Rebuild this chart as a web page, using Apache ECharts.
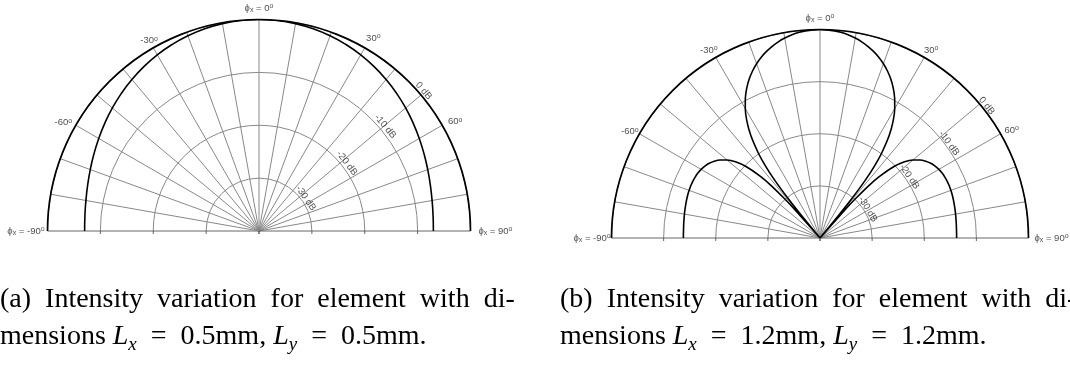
<!DOCTYPE html>
<html>
<head>
<meta charset="utf-8">
<title>Intensity variation</title>
<script src="https://cdn.jsdelivr.net/npm/echarts@6.0.0/dist/echarts.min.js"></script>
<style>
html, body { margin: 0; padding: 0; background: #fff; }
#main { width: 1070px; height: 368px; }
</style>
</head>
<body>
<div id="main"></div>
<script>
// (a) Lx = Ly = 0.5mm : angle (deg) / intensity (dB)
var angleA = [-90,-85,-80,-75,-70,-65,-60,-55,-50,-45,-40,-35,-30,-25,-20,-15,-10,-5,0,
              5,10,15,20,25,30,35,40,45,50,55,60,65,70,75,80,85,90];
var dbA = [-7.02,-6.95,-6.76,-6.45,-6.04,-5.55,-5.00,-4.41,-3.80,-3.19,-2.60,-2.04,-1.53,-1.08,-0.70,-0.40,-0.18,-0.04,0,
           -0.04,-0.18,-0.40,-0.70,-1.08,-1.53,-2.04,-2.60,-3.19,-3.80,-4.41,-5.00,-5.55,-6.04,-6.45,-6.76,-6.95,-7.02];

// (b) Lx = Ly = 1.2mm
var angleB = [-90,-88,-86,-84,-82,-80,-78,-76,-74,-72,-70,-68,-66,-64,-62,-60,-58,-56,-54,-52,-50,-48,-46,-44,-43,-42,-41.5,-41,-40.4,-40,
              -39.5,-39,-38,-37,-36,-34,-32,-30,-28,-26,-24,-22,-20,-18,-16,-14,-12,-10,-8,-6,-4,-2,0,
              2,4,6,8,10,12,14,16,18,20,22,24,26,28,30,32,34,36,37,38,39,39.5,
              40,40.4,41,41.5,42,43,44,46,48,50,52,54,56,58,60,62,64,66,68,70,72,74,76,78,80,82,84,86,88,90];
var dbB = [-13.79,-13.78,-13.76,-13.71,-13.66,-13.59,-13.52,-13.45,-13.38,-13.32,-13.28,-13.26,-13.28,-13.35,-13.47,-13.67,-13.96,-14.37,-14.93,-15.69,-16.73,-18.17,-20.26,-23.55,-26.11,-30.07,-33.19,-38.32,-40,-40,
           -34.48,-30.52,-25.60,-22.36,-19.90,-16.24,-13.51,-11.33,-9.51,-7.96,-6.61,-5.45,-4.42,-3.53,-2.76,-2.09,-1.52,-1.05,-0.67,-0.37,-0.17,-0.04,0,
           -0.04,-0.17,-0.37,-0.67,-1.05,-1.52,-2.09,-2.76,-3.53,-4.42,-5.45,-6.61,-7.96,-9.51,-11.33,-13.51,-16.24,-19.90,-22.36,-25.60,-30.52,-34.48,
           -40,-40,-38.32,-33.19,-30.07,-26.11,-23.55,-20.26,-18.17,-16.73,-15.69,-14.93,-14.37,-13.96,-13.67,-13.47,-13.35,-13.28,-13.26,-13.28,-13.32,-13.38,-13.45,-13.52,-13.59,-13.66,-13.71,-13.76,-13.78,-13.79];

// tick labels
var ringLabels = ['0 dB', '-10 dB', '-20 dB', '-30 dB'];
var ringValues = [-40, -30, -20, -10];   // little ticks under the baseline
var angleTicks = [-90, -60, -30, 0, 30, 60, 90];

// where the labels sit, per plot (radius in dB, angle in deg)
var plots = [
  { center: [259, 231], radius: 211.5,
    ringAt: [[0.9, 49.6], [-9.0, 50.4], [-19.0, 52.4], [-29.2, 55]],
    tickR: [0.45, 2.3, 1.55, 2.1, 2.35, 2.45, 1.4],
    tickA: [-90, -61, -30, 0, 30.7, 60.9, 90] },
  { center: [820, 238], radius: 208.5,
    ringAt: [[0.8, 51.6], [-9.3, 53.7], [-19.2, 55.6], [-29.3, 59]],
    tickR: [0.05, 1.8, 1.9, 2.15, 1.9, 2.2, 1.05],
    tickA: [-90, -60.8, -30.6, 0, 30.6, 60.6, 90] }
];

var gridGrey = '#888';
var splitColors = ['#666'];
for (var k = 0; k < 17; k++) splitColors.push(gridGrey);
splitColors.push('#666');

var labelRich = {
  sub: { fontFamily: 'Liberation Sans', fontSize: 7, lineHeight: 6, verticalAlign: 'bottom', color: '#1a1a1a' },
  sup: { fontFamily: 'Liberation Sans', fontSize: 7, lineHeight: 6, verticalAlign: 'top', color: '#1a1a1a' }
};

function tickText(v) {
  if (v === 0 || Math.abs(v) === 90) return 'ϕ{sub|x} = ' + v + '{sup|o}';
  return v + '{sup|o}';
}

var polar = [], angleAxis = [], radiusAxis = [], series = [];

plots.forEach(function (p, i) {
  polar.push({ center: p.center, radius: p.radius });
  angleAxis.push({
    polarIndex: i, type: 'value', min: -90, max: 90, interval: 10,
    startAngle: 180, endAngle: 0, clockwise: true,
    axisLine: { lineStyle: { color: '#000', width: 1.7 } },
    axisTick: { show: false },
    axisLabel: { show: false },
    splitLine: { lineStyle: { color: splitColors, width: 1 } }
  });
  radiusAxis.push({
    polarIndex: i, type: 'value', min: -40, max: 0, interval: 10,
    axisLine: { show: false }, axisTick: { show: false }, axisLabel: { show: false },
    splitLine: { lineStyle: { color: gridGrey, width: 1 } }
  });

  var angles = i === 0 ? angleA : angleB;
  var vals = i === 0 ? dbA : dbB;
  series.push({
    type: 'line', coordinateSystem: 'polar', polarIndex: i,
    data: angles.map(function (a, j) { return [vals[j], a]; }),
    symbol: 'none', smooth: i === 0 ? true : 0.25,
    lineStyle: { color: '#000', width: 1.6 },
    silent: true, z: 5
  });

  // small ticks hanging under the baseline where the rings meet it
  var baseTicks = [];
  ringValues.forEach(function (r) { baseTicks.push([r, -90], [r, 90]); });
  series.push({
    type: 'scatter', coordinateSystem: 'polar', polarIndex: i,
    symbol: 'rect', symbolSize: [1, 3], symbolOffset: [0, 1.5],
    itemStyle: { color: '#444' }, clip: false, silent: true, z: 4,
    data: baseTicks
  });

  // ring labels (0 dB .. -30 dB)
  series.push({
    type: 'scatter', coordinateSystem: 'polar', polarIndex: i,
    symbolSize: 1, itemStyle: { color: 'rgba(0,0,0,0)' }, clip: false, silent: true, z: 6,
    data: ringLabels.map(function (t, j) {
      return { value: p.ringAt[j], label: { formatter: t, rotate: -p.ringAt[j][1] } };
    }),
    label: { show: true, position: 'inside', color: '#1a1a1a', fontFamily: 'Liberation Sans', fontSize: 9.5 }
  });

  // angle labels
  series.push({
    type: 'scatter', coordinateSystem: 'polar', polarIndex: i,
    symbolSize: 1, itemStyle: { color: 'rgba(0,0,0,0)' }, clip: false, silent: true, z: 6,
    data: angleTicks.map(function (v, j) {
      var pos = v === -90 ? 'left' : (v === 90 ? 'right' : 'inside');
      return { value: [p.tickR[j], p.tickA[j]], label: { formatter: tickText(v), position: pos, distance: 0 } };
    }),
    label: { show: true, color: '#1a1a1a', fontFamily: 'Liberation Sans', fontSize: 9.5, lineHeight: 11, rich: labelRich }
  });
});

var capFont = { fontFamily: 'Liberation Serif', fontSize: 28, fontWeight: 'normal', color: '#000', lineHeight: 34 };
var capRich = {
  i: { fontFamily: 'Liberation Serif', fontStyle: 'italic', fontSize: 28, lineHeight: 34, color: '#000' },
  s: { fontFamily: 'Liberation Serif', fontStyle: 'italic', fontSize: 19, lineHeight: 18, verticalAlign: 'bottom', color: '#000' }
};
function capLine2(v) {
  return 'mensions {i|L}{s|x}\u2005 = \u2005' + v + 'mm, {i|L}{s|y}\u2005 = \u2005' + v + 'mm.';
}

var chart = echarts.init(document.getElementById('main'));
chart.setOption({
  animation: false,
  title: [
    { left: 0, top: 283, padding: 0, text: '(a)  Intensity  variation  for  element  with  di-', textStyle: capFont },
    { left: 0, top: 320, padding: 0, text: capLine2('0.5'), textStyle: Object.assign({ rich: capRich }, capFont) },
    { left: 560, top: 283, padding: 0, text: '(b)  Intensity  variation  for  element  with  di-', textStyle: capFont },
    { left: 560, top: 320, padding: 0, text: capLine2('1.2'), textStyle: Object.assign({ rich: capRich }, capFont) }
  ],
  polar: polar,
  angleAxis: angleAxis,
  radiusAxis: radiusAxis,
  series: series
});
</script>
</body>
</html>
